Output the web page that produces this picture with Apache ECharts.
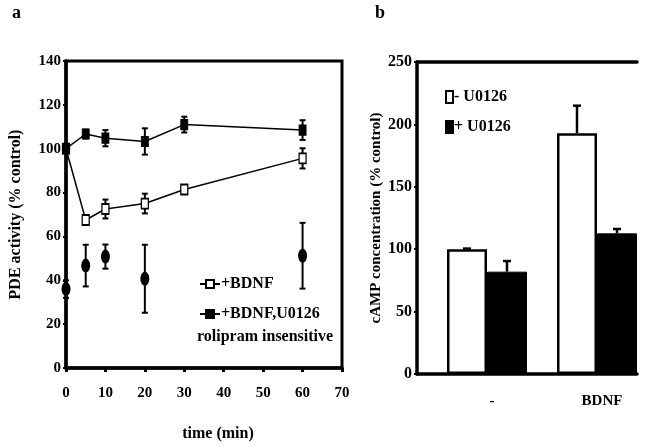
<!DOCTYPE html>
<html>
<head>
<meta charset="utf-8">
<script src="https://cdn.jsdelivr.net/npm/echarts@6/dist/echarts.min.js"></script>
<style>
  html, body { margin: 0; padding: 0; background: #fff; }
  #chart { width: 645px; height: 447px; }
</style>
</head>
<body>
<div id="chart"></div>
<script>
// panel a: PDE activity over time
var timePoints = [0, 5, 10, 20, 30, 60];
var bdnf = [100, 67.5, 72.5, 75, 81.4, 95.6];
var bdnfErr = [0, 1, 4.3, 4.5, 1, 4.6];
var bdnfU0126 = [100, 106.7, 104.8, 103.3, 111, 108.5];
var bdnfU0126Err = [0, 2, 3.7, 6, 3.6, 4.5];
var roliTime = [0, 5, 10, 20, 60];
var roliValues = [36, 46.7, 50.8, 40.7, 51.2];
var roliErr = [4, 9.5, 5.5, 15.5, 15];

// panel b: cAMP concentration
var camCategories = ['-', 'BDNF'];
var minusU0126 = [100, 193];
var minusU0126Err = [0.5, 22];
var plusU0126 = [82, 112.7];
var plusU0126Err = [8.5, 3.5];

var FONT = 'Liberation Serif';

function pairs(xs, ys) {
    return xs.map(function (x, i) { return [x, ys[i]]; });
}
function errData(xs, ys, es) {
    return xs.map(function (x, i) { return [x, ys[i], es[i]]; });
}

// two-sided error bars for panel a
function renderErr(params, api) {
    var x = api.value(0), y = api.value(1), e = api.value(2);
    if (!e) return;
    var top = api.coord([x, y + e]);
    var bot = api.coord([x, y - e]);
    var cap = 3;
    var st = { stroke: '#000', lineWidth: 2 };
    return {
        type: 'group',
        children: [
            { type: 'line', shape: { x1: top[0], y1: top[1], x2: bot[0], y2: bot[1] }, style: st },
            { type: 'line', shape: { x1: top[0] - cap, y1: top[1], x2: top[0] + cap, y2: top[1] }, style: st },
            { type: 'line', shape: { x1: bot[0] - cap, y1: bot[1], x2: bot[0] + cap, y2: bot[1] }, style: st }
        ]
    };
}

// one-sided (upward) error bars for panel b, shifted onto each bar
function makeBarErr(shift) {
    return function (params, api) {
        var c = api.value(0), y = api.value(1), e = api.value(2);
        var base = api.coord([c, y]);
        var top = api.coord([c, y + e]);
        var x = base[0] + shift;
        var st = { stroke: '#000', lineWidth: 2.5 };
        return {
            type: 'group',
            children: [
                { type: 'line', shape: { x1: x, y1: base[1], x2: x, y2: top[1] }, style: st },
                { type: 'line', shape: { x1: x - 4, y1: top[1], x2: x + 4, y2: top[1] }, style: st }
            ]
        };
    };
}

var myChart = echarts.init(document.getElementById('chart'));

var axisText = { color: '#000', fontFamily: FONT, fontWeight: 'bold', fontSize: 15 };

myChart.setOption({
    animation: false,
    backgroundColor: '#fff',
    textStyle: { fontFamily: FONT },
    graphic: [
        { type: 'text', left: 12, top: 4, style: { text: 'a', font: 'bold 18px "Liberation Serif"', fill: '#000' } },
        { type: 'text', left: 375, top: 4, style: { text: 'b', font: 'bold 18px "Liberation Serif"', fill: '#000' } },
        { type: 'text', left: 197, top: 329, style: { text: 'rolipram insensitive', font: 'bold 16px "Liberation Serif"', fill: '#000' } }
    ],
    legend: [{
        left: 194,
        top: 271,
        orient: 'vertical',
        itemWidth: 20,
        itemHeight: 10,
        itemGap: 14,
        textStyle: { color: '#000', fontFamily: FONT, fontWeight: 'bold', fontSize: 16, padding: [0, 0, 0, -4] },
        data: ['+BDNF', '+BDNF,U0126']
    }, {
        left: 440,
        top: 84,
        orient: 'vertical',
        icon: 'rect',
        itemWidth: 7,
        itemHeight: 12,
        itemGap: 14,
        textStyle: { color: '#000', fontFamily: FONT, fontWeight: 'bold', fontSize: 16, padding: [0, 0, 0, -4] },
        data: ['- U0126', '+ U0126']
    }],
    grid: [
        { left: 66, top: 61, right: 303, bottom: 73, show: true, borderColor: '#000', borderWidth: 3 },
        { left: 417, top: 62, right: 8, bottom: 73 }
    ],
    xAxis: [{
        gridIndex: 0,
        type: 'value',
        min: 0,
        max: 70,
        interval: 10,
        name: 'time (min)',
        nameLocation: 'middle',
        nameGap: 58,
        nameTextStyle: { color: '#000', fontFamily: FONT, fontWeight: 'bold', fontSize: 16, padding: [0, 0, 0, 28] },
        axisLine: { lineStyle: { color: '#000', width: 3.5 } },
        axisTick: { inside: false, length: 4, lineStyle: { color: '#000', width: 3 } },
        axisLabel: Object.assign({ margin: 18 }, axisText),
        splitLine: { show: false }
    }, {
        gridIndex: 1,
        type: 'category',
        data: camCategories,
        axisLine: { lineStyle: { color: '#000', width: 3.5 } },
        axisTick: { show: false },
        axisLabel: Object.assign({ margin: 20, padding: [0, 0, 0, 40] }, axisText),
        splitLine: { show: false }
    }, {
        gridIndex: 1,
        type: 'category',
        position: 'top',
        data: camCategories,
        axisLine: { lineStyle: { color: '#000', width: 3.5 } },
        axisTick: { show: false },
        axisLabel: { show: false }
    }],
    yAxis: [{
        gridIndex: 0,
        type: 'value',
        min: 0,
        max: 140,
        interval: 20,
        name: 'PDE activity (% control)',
        nameLocation: 'middle',
        nameGap: 42,
        nameTextStyle: { color: '#000', fontFamily: FONT, fontWeight: 'bold', fontSize: 16 },
        axisLine: { show: true, lineStyle: { color: '#000', width: 3.5 } },
        axisTick: { show: true, length: 3, lineStyle: { color: '#000', width: 2 } },
        axisLabel: Object.assign({ margin: 5 }, axisText),
        splitLine: { show: false }
    }, {
        gridIndex: 1,
        type: 'value',
        min: 0,
        max: 250,
        interval: 50,
        name: 'cAMP concentration (% control)',
        nameLocation: 'middle',
        nameGap: 32,
        nameTextStyle: { color: '#000', fontFamily: FONT, fontWeight: 'bold', fontSize: 15 },
        axisLine: { show: true, lineStyle: { color: '#000', width: 3.5 } },
        axisTick: { show: true, length: 3, lineStyle: { color: '#000', width: 2 } },
        axisLabel: Object.assign({ margin: 5 }, axisText, { fontSize: 16 }),
        splitLine: { show: false }
    }],
    series: [
        {
            name: '+BDNF',
            type: 'line',
            xAxisIndex: 0, yAxisIndex: 0,
            data: pairs(timePoints, bdnf),
            symbol: 'rect',
            symbolSize: [7, 10],
            lineStyle: { color: '#000', width: 1.5 },
            itemStyle: { color: '#fff', borderColor: '#000', borderWidth: 1.5 },
            z: 3
        },
        {
            name: '+BDNF,U0126',
            type: 'line',
            xAxisIndex: 0, yAxisIndex: 0,
            data: pairs(timePoints, bdnfU0126),
            symbol: 'rect',
            symbolSize: [7, 10],
            lineStyle: { color: '#000', width: 1.5 },
            itemStyle: { color: '#000', borderColor: '#000', borderWidth: 1 },
            z: 3
        },
        {
            name: 'rolipram insensitive',
            type: 'scatter',
            xAxisIndex: 0, yAxisIndex: 0,
            data: pairs(roliTime, roliValues),
            symbol: 'circle',
            symbolSize: [9, 14],
            itemStyle: { color: '#000', opacity: 1 },
            z: 3
        },
        {
            type: 'custom', xAxisIndex: 0, yAxisIndex: 0,
            renderItem: renderErr, data: errData(timePoints, bdnf, bdnfErr), z: 2
        },
        {
            type: 'custom', xAxisIndex: 0, yAxisIndex: 0,
            renderItem: renderErr, data: errData(timePoints, bdnfU0126, bdnfU0126Err), z: 2
        },
        {
            type: 'custom', xAxisIndex: 0, yAxisIndex: 0,
            renderItem: renderErr, data: errData(roliTime, roliValues, roliErr), z: 2
        },
        // spacer keeps the bar pairs off the left axis like the original
        {
            name: 'spacer',
            type: 'bar',
            xAxisIndex: 1, yAxisIndex: 1,
            data: [0, 0],
            barWidth: 30,
            barGap: 0,
            itemStyle: { color: 'rgba(0,0,0,0)' },
            silent: true
        },
        {
            name: '- U0126',
            type: 'bar',
            xAxisIndex: 1, yAxisIndex: 1,
            data: minusU0126,
            barWidth: 40,
            barGap: 0,
            itemStyle: { color: '#fff', borderColor: '#000', borderWidth: 2.5 }
        },
        {
            name: '+ U0126',
            type: 'bar',
            xAxisIndex: 1, yAxisIndex: 1,
            data: plusU0126,
            barWidth: 40,
            barGap: 0,
            itemStyle: { color: '#000', borderColor: '#000', borderWidth: 1 }
        },
        {
            type: 'custom', xAxisIndex: 1, yAxisIndex: 1,
            renderItem: makeBarErr(-5),
            data: camCategories.map(function (c, i) { return [i, minusU0126[i], minusU0126Err[i]]; }),
            z: 3
        },
        {
            type: 'custom', xAxisIndex: 1, yAxisIndex: 1,
            renderItem: makeBarErr(35),
            data: camCategories.map(function (c, i) { return [i, plusU0126[i], plusU0126Err[i]]; }),
            z: 3
        }
    ]
});
</script>
</body>
</html>
